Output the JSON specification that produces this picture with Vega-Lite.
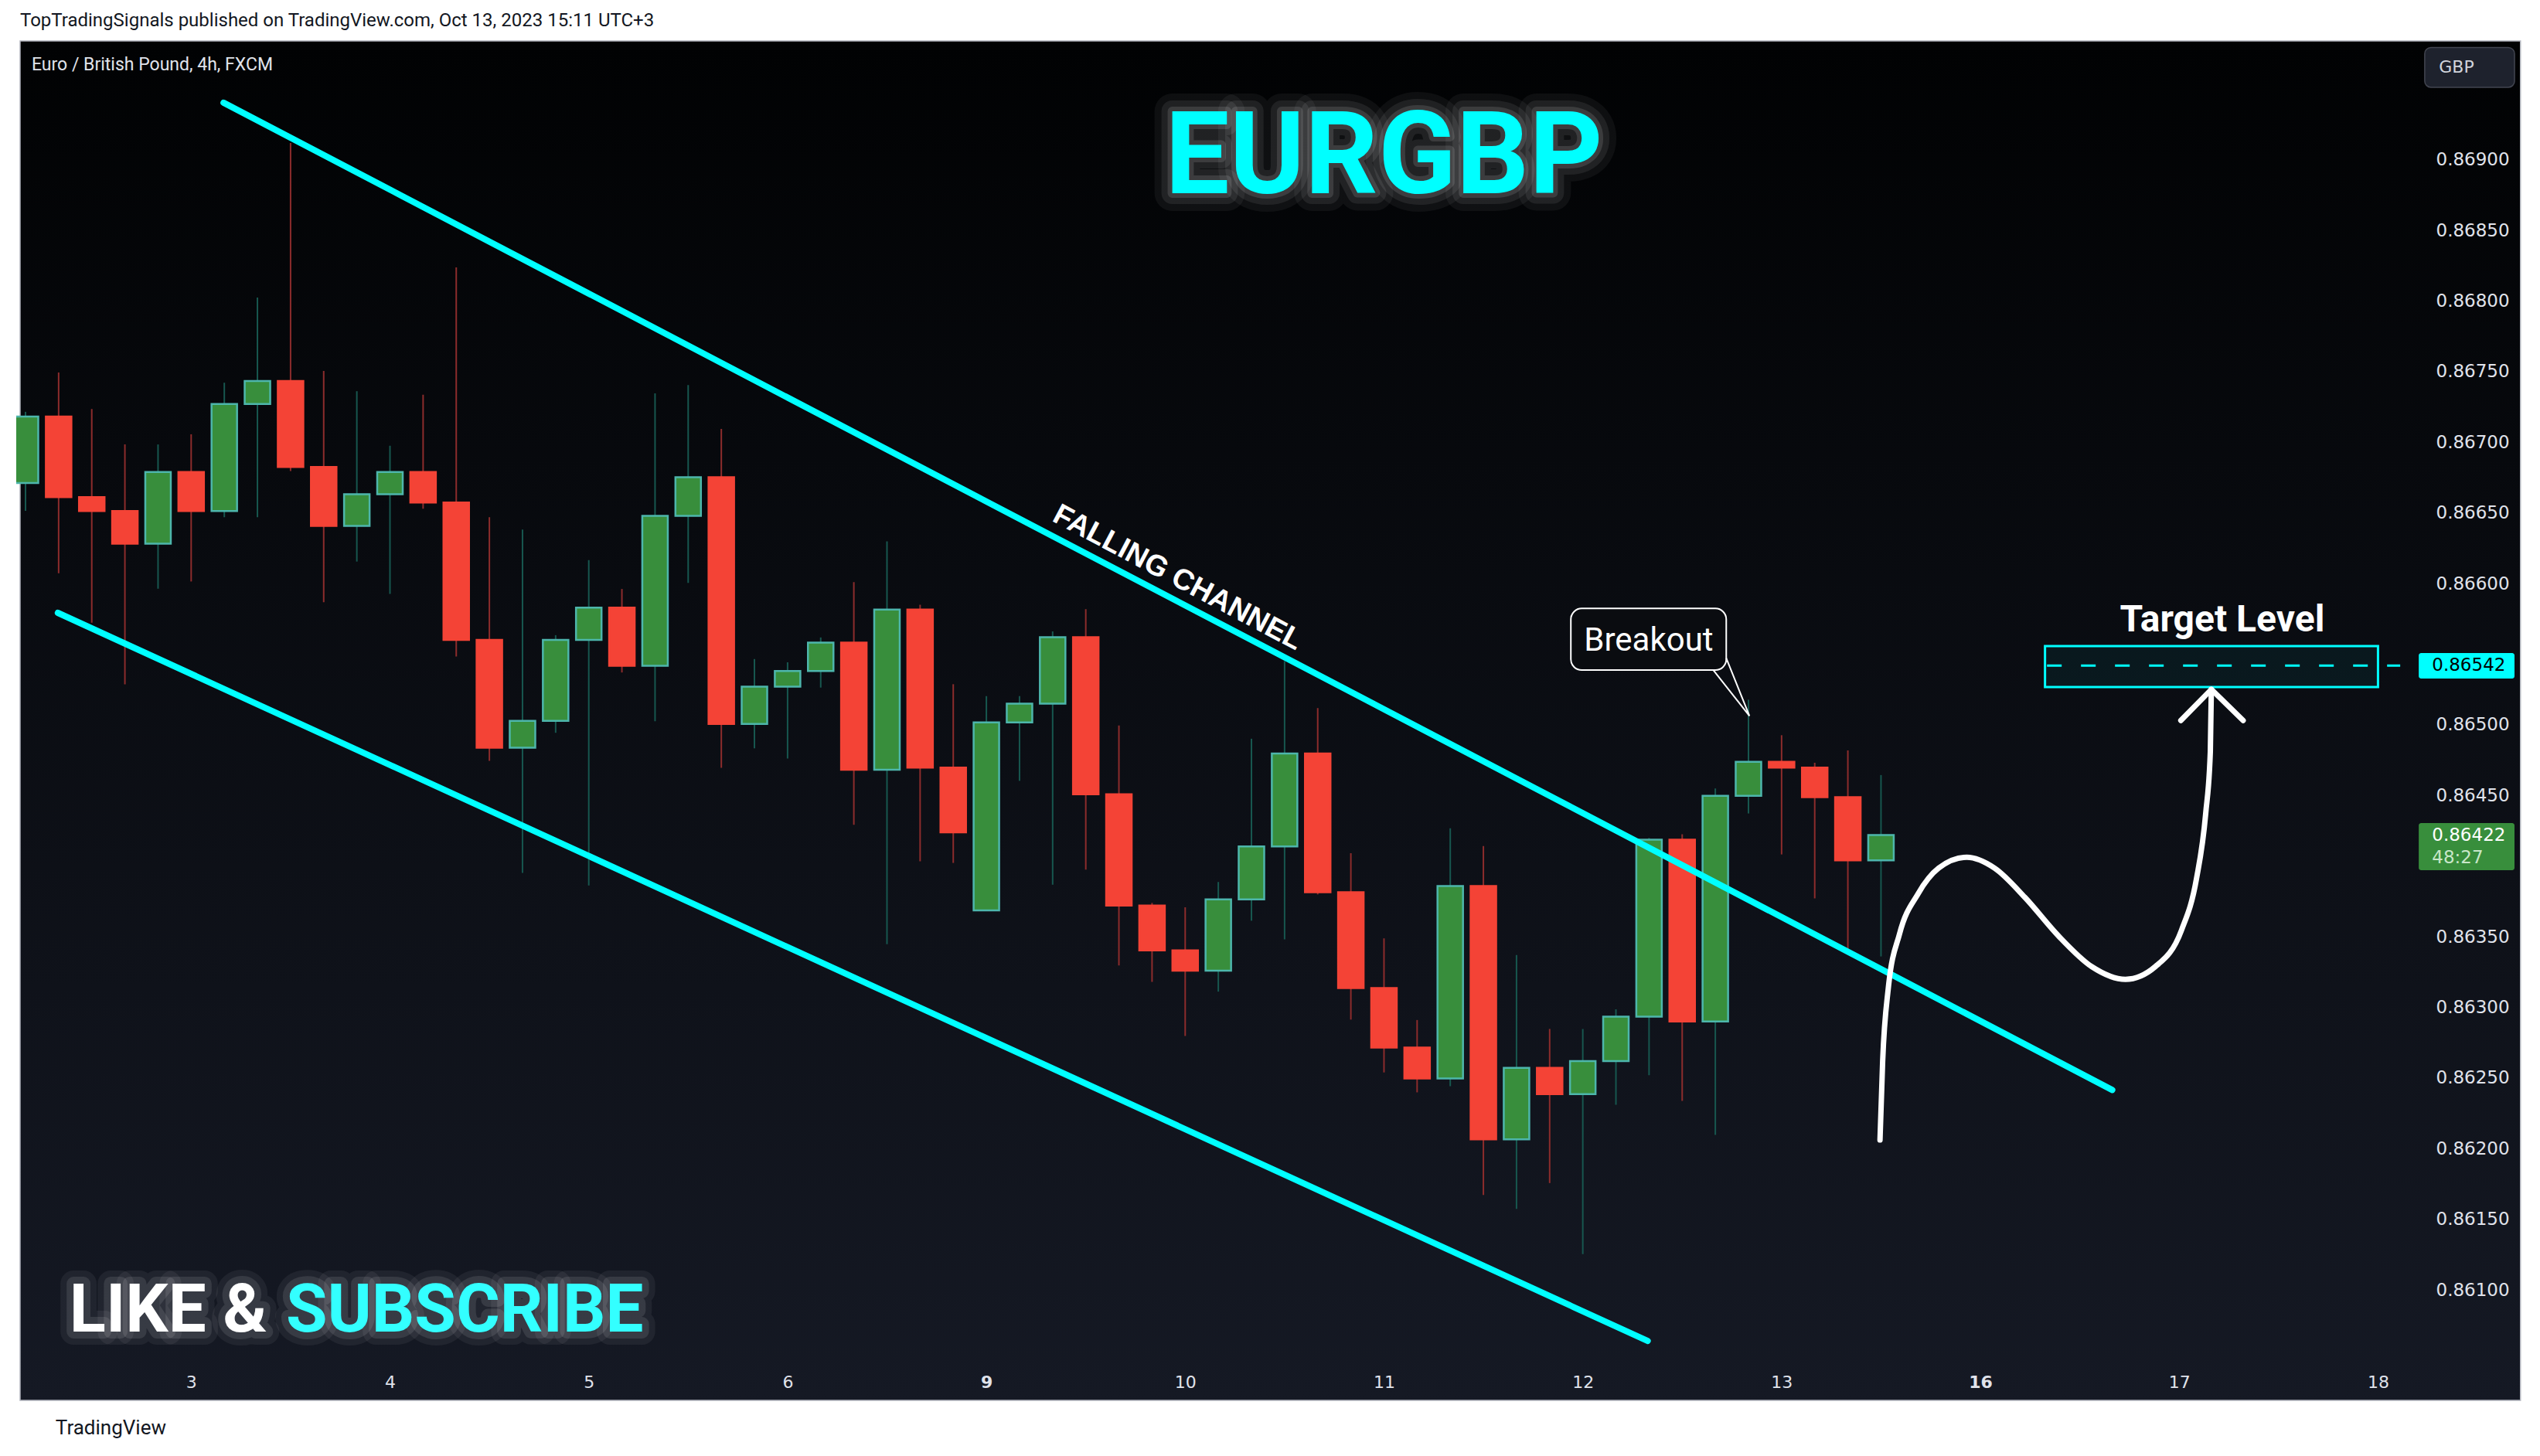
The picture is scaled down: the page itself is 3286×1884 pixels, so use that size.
{
  "$schema": "https://vega.github.io/schema/vega-lite/v6.json",
  "width": 3099,
  "height": 1712,
  "autosize": {"type": "none"},
  "padding": {"left": 21, "top": 53, "right": 166, "bottom": 119},
  "background": "#ffffff",
  "view": {"stroke": null, "fill": null},
  "resolve": {"axis": {"x": "independent", "y": "independent"}},
  "datasets": {
    "candles": [
      {"t":0,"o":0.866712,"h":0.867216,"l":0.866515,"c":0.867183},
      {"t":1,"o":0.867183,"h":0.867494,"l":0.866074,"c":0.866612},
      {"t":2,"o":0.866612,"h":0.867236,"l":0.865723,"c":0.866514},
      {"t":3,"o":0.866514,"h":0.866985,"l":0.865287,"c":0.866282},
      {"t":4,"o":0.866282,"h":0.866985,"l":0.865964,"c":0.86679},
      {"t":5,"o":0.86679,"h":0.867057,"l":0.866015,"c":0.866514},
      {"t":6,"o":0.866514,"h":0.867422,"l":0.86647,"c":0.867271},
      {"t":7,"o":0.867271,"h":0.868025,"l":0.86647,"c":0.867434},
      {"t":8,"o":0.867434,"h":0.869119,"l":0.866797,"c":0.866825},
      {"t":9,"o":0.866825,"h":0.867505,"l":0.865868,"c":0.866408},
      {"t":10,"o":0.866408,"h":0.867362,"l":0.866156,"c":0.866633},
      {"t":11,"o":0.866633,"h":0.866976,"l":0.865927,"c":0.86679},
      {"t":12,"o":0.86679,"h":0.867337,"l":0.86653,"c":0.866574},
      {"t":13,"o":0.866574,"h":0.868238,"l":0.865484,"c":0.865601},
      {"t":14,"o":0.865601,"h":0.86647,"l":0.864746,"c":0.864838},
      {"t":15,"o":0.864838,"h":0.866382,"l":0.863952,"c":0.865029},
      {"t":16,"o":0.865029,"h":0.865635,"l":0.864944,"c":0.865601},
      {"t":17,"o":0.865601,"h":0.866166,"l":0.863864,"c":0.86583},
      {"t":18,"o":0.86583,"h":0.865962,"l":0.865371,"c":0.865418},
      {"t":19,"o":0.865418,"h":0.867346,"l":0.865026,"c":0.86648},
      {"t":20,"o":0.86648,"h":0.867406,"l":0.866005,"c":0.866753},
      {"t":21,"o":0.866753,"h":0.867095,"l":0.864696,"c":0.865007},
      {"t":22,"o":0.865007,"h":0.865466,"l":0.864834,"c":0.865271},
      {"t":23,"o":0.865271,"h":0.865443,"l":0.864762,"c":0.865381},
      {"t":24,"o":0.865381,"h":0.865619,"l":0.865264,"c":0.865582},
      {"t":25,"o":0.865582,"h":0.86601,"l":0.864293,"c":0.864682},
      {"t":26,"o":0.864682,"h":0.866299,"l":0.863448,"c":0.865816},
      {"t":27,"o":0.865816,"h":0.86585,"l":0.864035,"c":0.864698},
      {"t":28,"o":0.864698,"h":0.865288,"l":0.864023,"c":0.86424},
      {"t":29,"o":0.863687,"h":0.865204,"l":0.863687,"c":0.865018},
      {"t":30,"o":0.865018,"h":0.865204,"l":0.864604,"c":0.86515},
      {"t":31,"o":0.86515,"h":0.865662,"l":0.863869,"c":0.865621},
      {"t":32,"o":0.865621,"h":0.865819,"l":0.863975,"c":0.864509},
      {"t":33,"o":0.864509,"h":0.864996,"l":0.863297,"c":0.863721},
      {"t":34,"o":0.863721,"h":0.86374,"l":0.863181,"c":0.863404},
      {"t":35,"o":0.863404,"h":0.863709,"l":0.862798,"c":0.86326},
      {"t":36,"o":0.86326,"h":0.863888,"l":0.863112,"c":0.863765},
      {"t":37,"o":0.863765,"h":0.864902,"l":0.863614,"c":0.864139},
      {"t":38,"o":0.864139,"h":0.865451,"l":0.863482,"c":0.864798},
      {"t":39,"o":0.864798,"h":0.865119,"l":0.8638,"c":0.863816},
      {"t":40,"o":0.863816,"h":0.864092,"l":0.862914,"c":0.863137},
      {"t":41,"o":0.863137,"h":0.863489,"l":0.86254,"c":0.862716},
      {"t":42,"o":0.862716,"h":0.862911,"l":0.862399,"c":0.862497},
      {"t":43,"o":0.862497,"h":0.864268,"l":0.862443,"c":0.863859},
      {"t":44,"o":0.863859,"h":0.864142,"l":0.861672,"c":0.862067},
      {"t":45,"o":0.862067,"h":0.863371,"l":0.861574,"c":0.862572},
      {"t":46,"o":0.862572,"h":0.862848,"l":0.861757,"c":0.862387},
      {"t":47,"o":0.862387,"h":0.862848,"l":0.861254,"c":0.862621},
      {"t":48,"o":0.862621,"h":0.862987,"l":0.862311,"c":0.862935},
      {"t":49,"o":0.862935,"h":0.8642,"l":0.86252,"c":0.864188},
      {"t":50,"o":0.864188,"h":0.864226,"l":0.862339,"c":0.8629},
      {"t":51,"o":0.8629,"h":0.86455,"l":0.862098,"c":0.864498},
      {"t":52,"o":0.864498,"h":0.865178,"l":0.864373,"c":0.864739},
      {"t":53,"o":0.864739,"h":0.864927,"l":0.864083,"c":0.864697},
      {"t":54,"o":0.864697,"h":0.864732,"l":0.863772,"c":0.864488},
      {"t":55,"o":0.864488,"h":0.864819,"l":0.863389,"c":0.864041},
      {"t":56,"o":0.864041,"h":0.864645,"l":0.863361,"c":0.86422}
    ]
  },
  "layer": [
    {
      "data": {"values": [{"t": -0.163, "t2": 75.3, "p": 0.869841, "p2": 0.860219}]},
      "mark": {"type": "rect", "fill": {"gradient": "linear", "x1": 0, "y1": 0, "x2": 0, "y2": 1, "stops": [{"offset": 0, "color": "#010203"}, {"offset": 1, "color": "#151924"}]}, "stroke": "#b2b5be", "strokeWidth": 1.5},
      "encoding": {
        "x": {"field": "t", "type": "quantitative", "scale": {"domain": [-0.163, 71.9], "nice": false, "zero": false},
          "axis": {"orient": "bottom", "zindex": 1, "values": [5, 11, 17, 23, 29, 35, 41, 47, 53, 59, 65, 71],
            "labelExpr": "datum.value==5?'3':datum.value==11?'4':datum.value==17?'5':datum.value==23?'6':datum.value==29?'9':datum.value==35?'10':datum.value==41?'11':datum.value==47?'12':datum.value==53?'13':datum.value==59?'16':datum.value==65?'17':'18'",
            "labelFontWeight": {"condition": {"test": "datum.value == 29 || datum.value == 59", "value": "bold"}, "value": "normal"},
            "ticks": false, "domain": false, "grid": false, "labelFont": "DejaVu Sans", "labelFontSize": 22, "labelColor": "#e0e3eb", "labelPadding": 23, "labelBaseline": "middle", "labelFlush": false, "labelOverlap": false, "title": null}},
        "x2": {"field": "t2"},
        "y": {"field": "p", "type": "quantitative", "scale": {"domain": [0.860476, 0.869841], "nice": false, "zero": false},
          "axis": {"orient": "right", "zindex": 1, "values": [0.861, 0.8615, 0.862, 0.8625, 0.863, 0.8635, 0.8645, 0.865, 0.866, 0.8665, 0.867, 0.8675, 0.868, 0.8685, 0.869], "format": ".5f", "ticks": false, "domain": false, "grid": false, "labelFont": "DejaVu Sans", "labelFontSize": 23, "labelColor": "#e0e3eb", "labelPadding": 31, "labelAlign": "left", "labelBaseline": "middle", "labelFlush": false, "labelOverlap": false, "title": null}},
        "y2": {"field": "p2"}
      }
    },
    {
      "data": {"name": "candles"},
      "mark": {"type": "rule", "strokeWidth": 2, "clip": true},
      "encoding": {
        "x": {"field": "t", "type": "quantitative", "scale": {"domain": [-0.163, 71.9], "nice": false, "zero": false}, "axis": null},
        "y": {"field": "l", "type": "quantitative", "scale": {"domain": [0.860476, 0.869841], "nice": false, "zero": false}, "axis": null},
        "y2": {"field": "h"},
        "color": {"condition": {"test": "datum.c >= datum.o", "value": "#17574f"}, "value": "#8c2c2c"}
      }
    },
    {
      "data": {"name": "candles"},
      "mark": {"type": "bar", "width": 33, "strokeWidth": 2.5, "clip": true},
      "encoding": {
        "x": {"field": "t", "type": "quantitative", "scale": {"domain": [-0.163, 71.9], "nice": false, "zero": false}, "axis": null},
        "y": {"field": "o", "type": "quantitative", "scale": {"domain": [0.860476, 0.869841], "nice": false, "zero": false}, "axis": null},
        "y2": {"field": "c"},
        "fill": {"condition": {"test": "datum.c >= datum.o", "value": "#388e3c"}, "value": "#f44336"},
        "stroke": {"condition": {"test": "datum.c >= datum.o", "value": "#4db6ac"}, "value": "#f44336"}
      }
    },
    {
      "data": {"values": [
        {"line": "upper", "t": 5.977, "p": 0.869404},
        {"line": "upper", "t": 62.98, "p": 0.862416},
        {"line": "lower", "t": 0.977, "p": 0.865793},
        {"line": "lower", "t": 48.96, "p": 0.860639}
      ]},
      "mark": {"type": "line", "color": "#00ffff", "strokeWidth": 8, "strokeCap": "round"},
      "encoding": {
        "x": {"field": "t", "type": "quantitative", "scale": {"domain": [-0.163, 71.9], "nice": false, "zero": false}, "axis": null},
        "y": {"field": "p", "type": "quantitative", "scale": {"domain": [0.860476, 0.869841], "nice": false, "zero": false}, "axis": null},
        "detail": {"field": "line"}
      }
    },
    {
      "data": {"values": [{"t": 60.95, "t2": 71.0, "p": 0.865558, "p2": 0.865268}]},
      "mark": {"type": "rect", "fill": "#00ffff", "fillOpacity": 0.05, "stroke": "#00ffff", "strokeWidth": 3},
      "encoding": {
        "x": {"field": "t", "type": "quantitative", "scale": {"domain": [-0.163, 71.9], "nice": false, "zero": false}, "axis": null},
        "x2": {"field": "t2"},
        "y": {"field": "p", "type": "quantitative", "scale": {"domain": [0.860476, 0.869841], "nice": false, "zero": false}, "axis": null},
        "y2": {"field": "p2"}
      }
    },
    {
      "data": {"values": [{"t": 61.01, "t2": 71.67, "p": 0.86542}]},
      "mark": {"type": "rule", "color": "#00ffff", "strokeWidth": 3, "strokeDash": [19, 25]},
      "encoding": {
        "x": {"field": "t", "type": "quantitative", "scale": {"domain": [-0.163, 71.9], "nice": false, "zero": false}, "axis": null},
        "x2": {"field": "t2"},
        "y": {"field": "p", "type": "quantitative", "scale": {"domain": [0.860476, 0.869841], "nice": false, "zero": false}, "axis": null}
      }
    },
    {
      "data": {"values": [
        {"t": 55.97, "p": 0.862062}, {"t": 56.05, "p": 0.862618}, {"t": 56.22, "p": 0.863135}, {"t": 56.56, "p": 0.863521},
        {"t": 57.12, "p": 0.863805}, {"t": 57.74, "p": 0.863986}, {"t": 58.59, "p": 0.864063}, {"t": 59.43, "p": 0.863986},
        {"t": 60.34, "p": 0.86378}, {"t": 61.35, "p": 0.863508}, {"t": 62.36, "p": 0.863289}, {"t": 63.38, "p": 0.863199},
        {"t": 64.28, "p": 0.863289}, {"t": 65.07, "p": 0.863547}, {"t": 65.52, "p": 0.863909}, {"t": 65.8, "p": 0.864373},
        {"t": 65.94, "p": 0.864812}, {"t": 65.97, "p": 0.865251}
      ]},
      "mark": {"type": "line", "color": "#ffffff", "strokeWidth": 7, "strokeCap": "round", "interpolate": "monotone"},
      "encoding": {
        "x": {"field": "t", "type": "quantitative", "scale": {"domain": [-0.163, 71.9], "nice": false, "zero": false}, "axis": null},
        "y": {"field": "p", "type": "quantitative", "scale": {"domain": [0.860476, 0.869841], "nice": false, "zero": false}, "axis": null}
      }
    },
    {
      "data": {"values": [{"t": 65.05, "p": 0.865031}, {"t": 65.97, "p": 0.865251}, {"t": 66.93, "p": 0.865031}]},
      "mark": {"type": "line", "color": "#ffffff", "strokeWidth": 7, "strokeCap": "round", "strokeJoin": "round"},
      "encoding": {
        "x": {"field": "t", "type": "quantitative", "scale": {"domain": [-0.163, 71.9], "nice": false, "zero": false}, "axis": null},
        "y": {"field": "p", "type": "quantitative", "scale": {"domain": [0.860476, 0.869841], "nice": false, "zero": false}, "axis": null}
      }
    },
    {
      "data": {"values": [{"t": 46.64, "t2": 51.33, "p": 0.865824, "p2": 0.865388}]},
      "mark": {"type": "rect", "fill": "#0a0c10", "stroke": "#ffffff", "strokeWidth": 2, "cornerRadius": 14},
      "encoding": {
        "x": {"field": "t", "type": "quantitative", "scale": {"domain": [-0.163, 71.9], "nice": false, "zero": false}, "axis": null},
        "x2": {"field": "t2"},
        "y": {"field": "p", "type": "quantitative", "scale": {"domain": [0.860476, 0.869841], "nice": false, "zero": false}, "axis": null},
        "y2": {"field": "p2"}
      }
    },
    {
      "data": {"values": [{"k": 1, "t": 51.33, "p": 0.865472}, {"k": 2, "t": 52.03, "p": 0.865063}, {"k": 3, "t": 50.94, "p": 0.865388}]},
      "mark": {"type": "line", "color": "#ffffff", "strokeWidth": 2, "strokeJoin": "miter"},
      "encoding": {
        "x": {"field": "t", "type": "quantitative", "scale": {"domain": [-0.163, 71.9], "nice": false, "zero": false}, "axis": null},
        "y": {"field": "p", "type": "quantitative", "scale": {"domain": [0.860476, 0.869841], "nice": false, "zero": false}, "axis": null},
        "order": {"field": "k"}
      }
    },
    {
      "data": {"values": [{"t": 48.99, "p": 0.865527, "label": "Breakout"}]},
      "mark": {"type": "text", "font": "Roboto", "fontSize": 42, "color": "#ffffff", "align": "center", "baseline": "alphabetic"},
      "encoding": {
        "x": {"field": "t", "type": "quantitative", "scale": {"domain": [-0.163, 71.9], "nice": false, "zero": false}, "axis": null},
        "y": {"field": "p", "type": "quantitative", "scale": {"domain": [0.860476, 0.869841], "nice": false, "zero": false}, "axis": null},
        "text": {"field": "label"}
      }
    },
    {
      "data": {"values": [{"t": 66.3, "p": 0.865664, "label": "Target Level"}]},
      "mark": {"type": "text", "font": "Roboto", "fontSize": 48, "fontWeight": "bold", "color": "#ffffff", "align": "center", "baseline": "alphabetic"},
      "encoding": {
        "x": {"field": "t", "type": "quantitative", "scale": {"domain": [-0.163, 71.9], "nice": false, "zero": false}, "axis": null},
        "y": {"field": "p", "type": "quantitative", "scale": {"domain": [0.860476, 0.869841], "nice": false, "zero": false}, "axis": null},
        "text": {"field": "label"}
      }
    },
    {
      "data": {"values": [{"t": 34.77, "p": 0.866039, "label": "FALLING CHANNEL"}]},
      "mark": {"type": "text", "font": "Liberation Sans", "fontSize": 38, "fontWeight": "bold", "color": "#ffffff", "align": "center", "baseline": "middle", "angle": 28},
      "encoding": {
        "x": {"field": "t", "type": "quantitative", "scale": {"domain": [-0.163, 71.9], "nice": false, "zero": false}, "axis": null},
        "y": {"field": "p", "type": "quantitative", "scale": {"domain": [0.860476, 0.869841], "nice": false, "zero": false}, "axis": null},
        "text": {"field": "label"}
      }
    },
    {
      "data": {"values": [{"t": 0.186, "p": 0.869672, "label": "Euro / British Pound, 4h, FXCM"}]},
      "mark": {"type": "text", "font": "Roboto", "fontSize": 23, "color": "#e0e3eb", "align": "left", "baseline": "middle"},
      "encoding": {
        "x": {"field": "t", "type": "quantitative", "scale": {"domain": [-0.163, 71.9], "nice": false, "zero": false}, "axis": null},
        "y": {"field": "p", "type": "quantitative", "scale": {"domain": [0.860476, 0.869841], "nice": false, "zero": false}, "axis": null},
        "text": {"field": "label"}
      }
    },
    {
      "data": {"values": [
        {"t": -0.163, "p": 0.869984, "label": "TopTradingSignals published on TradingView.com, Oct 13, 2023 15:11 UTC+3", "kind": "header"},
        {"t": 0.907, "p": 0.860022, "label": "TradingView", "kind": "footer"}
      ]},
      "mark": {"type": "text", "font": "Roboto", "fontSize": 24, "color": "#131722", "align": "left", "baseline": "middle"},
      "encoding": {
        "x": {"field": "t", "type": "quantitative", "scale": {"domain": [-0.163, 71.9], "nice": false, "zero": false}, "axis": null},
        "y": {"field": "p", "type": "quantitative", "scale": {"domain": [0.860476, 0.869841], "nice": false, "zero": false}, "axis": null},
        "text": {"field": "label"},
        "size": {"condition": {"test": "datum.kind == 'footer'", "value": 26}, "value": 24}
      }
    },
    {
      "data": {"values": [{"t": 41.0, "p": 0.868764, "label": "EURGBP"}]},
      "layer": [
        {"mark": {"type": "text", "font": "Roboto", "fontSize": 148, "fontWeight": "bold", "align": "center", "baseline": "alphabetic", "fillOpacity": 0, "stroke": "#ffffff", "strokeOpacity": 0.05, "strokeWidth": 46, "strokeJoin": "round"}},
        {"mark": {"type": "text", "font": "Roboto", "fontSize": 148, "fontWeight": "bold", "align": "center", "baseline": "alphabetic", "fillOpacity": 0, "stroke": "#ffffff", "strokeOpacity": 0.08, "strokeWidth": 28, "strokeJoin": "round"}},
        {"mark": {"type": "text", "font": "Roboto", "fontSize": 148, "fontWeight": "bold", "align": "center", "baseline": "alphabetic", "fillOpacity": 0, "stroke": "#ffffff", "strokeOpacity": 0.12, "strokeWidth": 12, "strokeJoin": "round"}},
        {"mark": {"type": "text", "font": "Roboto", "fontSize": 148, "fontWeight": "bold", "align": "center", "baseline": "alphabetic", "fill": "#00ffff"}}
      ],
      "encoding": {
        "x": {"field": "t", "type": "quantitative", "scale": {"domain": [-0.163, 71.9], "nice": false, "zero": false}, "axis": null},
        "y": {"field": "p", "type": "quantitative", "scale": {"domain": [0.860476, 0.869841], "nice": false, "zero": false}, "axis": null},
        "text": {"field": "label"}
      }
    },
    {
      "data": {"values": [{"t": 1.326, "p": 0.860706, "label": "LIKE &", "kind": "white"}, {"t": 7.86, "p": 0.860706, "label": "SUBSCRIBE", "kind": "cyan"}]},
      "layer": [
        {"mark": {"type": "text", "font": "Roboto", "fontSize": 87, "fontWeight": "bold", "align": "left", "baseline": "alphabetic", "fillOpacity": 0, "stroke": "#ffffff", "strokeOpacity": 0.06, "strokeWidth": 34, "strokeJoin": "round"}},
        {"mark": {"type": "text", "font": "Roboto", "fontSize": 87, "fontWeight": "bold", "align": "left", "baseline": "alphabetic", "fillOpacity": 0, "stroke": "#ffffff", "strokeOpacity": 0.1, "strokeWidth": 18, "strokeJoin": "round"}},
        {"mark": {"type": "text", "font": "Roboto", "fontSize": 87, "fontWeight": "bold", "align": "left", "baseline": "alphabetic"},
          "encoding": {"fill": {"condition": {"test": "datum.kind == 'cyan'", "value": "#33ffff"}, "value": "#ffffff"}}}
      ],
      "encoding": {
        "x": {"field": "t", "type": "quantitative", "scale": {"domain": [-0.163, 71.9], "nice": false, "zero": false}, "axis": null},
        "y": {"field": "p", "type": "quantitative", "scale": {"domain": [0.860476, 0.869841], "nice": false, "zero": false}, "axis": null},
        "text": {"field": "label"}
      }
    },
    {
      "data": {"values": [
        {"box": "target", "t": 72.23, "t2": 75.12, "p": 0.865509, "p2": 0.865328},
        {"box": "last", "t": 72.23, "t2": 75.12, "p": 0.864305, "p2": 0.863972}
      ]},
      "mark": {"type": "rect", "cornerRadius": 3},
      "encoding": {
        "x": {"field": "t", "type": "quantitative", "scale": {"domain": [-0.163, 71.9], "nice": false, "zero": false}, "axis": null},
        "x2": {"field": "t2"},
        "y": {"field": "p", "type": "quantitative", "scale": {"domain": [0.860476, 0.869841], "nice": false, "zero": false}, "axis": null},
        "y2": {"field": "p2"},
        "fill": {"condition": {"test": "datum.box == 'target'", "value": "#00ffff"}, "value": "#388e3c"}
      }
    },
    {
      "data": {"values": [{"t": 72.41, "t2": 75.12, "p": 0.869795, "p2": 0.869513}]},
      "mark": {"type": "rect", "cornerRadius": 8, "fill": "#1e222d", "stroke": "#434651", "strokeWidth": 1.5},
      "encoding": {
        "x": {"field": "t", "type": "quantitative", "scale": {"domain": [-0.163, 71.9], "nice": false, "zero": false}, "axis": null},
        "x2": {"field": "t2"},
        "y": {"field": "p", "type": "quantitative", "scale": {"domain": [0.860476, 0.869841], "nice": false, "zero": false}, "axis": null},
        "y2": {"field": "p2"}
      }
    },
    {
      "data": {"values": [
        {"t": 72.63, "p": 0.86542, "label": "0.86542", "kind": "target"},
        {"t": 72.63, "p": 0.864218, "label": "0.86422", "kind": "last"},
        {"t": 72.63, "p": 0.864059, "label": "48:27", "kind": "timer"}
      ]},
      "mark": {"type": "text", "font": "DejaVu Sans", "fontSize": 23, "baseline": "middle", "align": "left"},
      "encoding": {
        "x": {"field": "t", "type": "quantitative", "scale": {"domain": [-0.163, 71.9], "nice": false, "zero": false}, "axis": null},
        "y": {"field": "p", "type": "quantitative", "scale": {"domain": [0.860476, 0.869841], "nice": false, "zero": false}, "axis": null},
        "text": {"field": "label"},
        "fill": {"condition": [
          {"test": "datum.kind == 'target'", "value": "#000000"},
          {"test": "datum.kind == 'timer'", "value": "#c8e6c9"}
        ], "value": "#ffffff"}
      }
    },
    {
      "data": {"values": [{"t": 73.37, "p": 0.869655, "label": "GBP"}]},
      "mark": {"type": "text", "font": "DejaVu Sans", "fontSize": 22, "baseline": "middle", "align": "center", "color": "#d1d4dc"},
      "encoding": {
        "x": {"field": "t", "type": "quantitative", "scale": {"domain": [-0.163, 71.9], "nice": false, "zero": false}, "axis": null},
        "y": {"field": "p", "type": "quantitative", "scale": {"domain": [0.860476, 0.869841], "nice": false, "zero": false}, "axis": null},
        "text": {"field": "label"}
      }
    }
  ]
}
